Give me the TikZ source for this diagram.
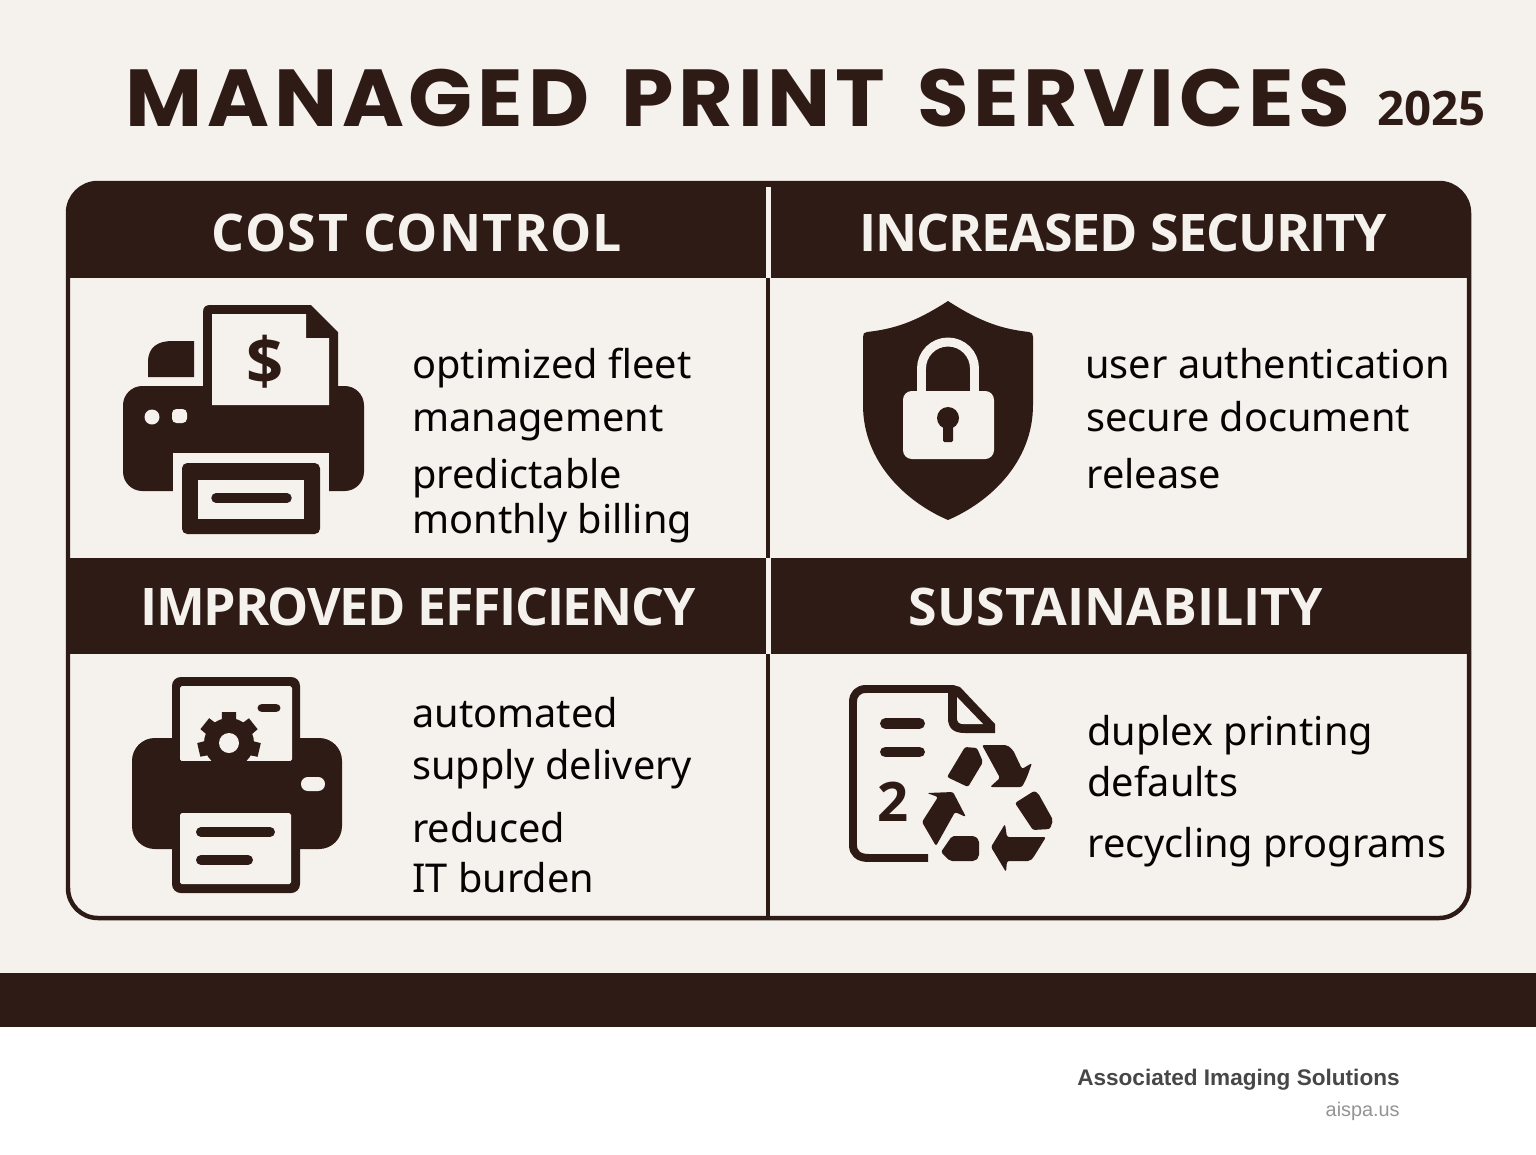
\documentclass[tikz,border=0pt]{standalone}
\usepackage{fontspec}
\setmainfont{Noto Sans}
\newfontfamily\titlefont[FakeStretch=1.04,LetterSpace=6,WordSpace=1.4]{Poppins}
\newfontfamily\headfont{Open Sans}
\newfontfamily\footfont{Liberation Sans}
\definecolor{ink}{HTML}{2F1B16}
\definecolor{paper}{HTML}{F5F1EC}
\tikzset{
	px/.style={x=0.02cm, y=-0.02cm},
	paperfill/.style={fill=paper},
	inkfill/.style={fill=ink},
	inkline/.style={draw=ink, line width=#1*0.567pt},
	headtext/.style={text=paper, font=\headfont\bfseries\fontsize{29.5}{29.5}\selectfont},
	bodytext/.style={text=black!88!ink, anchor=base west, inner sep=0pt, font=\fontsize{22.6}{22.6}\selectfont},
	pics/barline/.style n args={3}{
		code = {
			\draw[ink, line width=#3*0.567pt, line cap=round] (#1) -- (#2);
		}
	}
}

\begin{document}
\begin{tikzpicture}[px]

	\useasboundingbox (0, 0) rectangle (1536, 1154);
	\fill[white] (0, 0) rectangle (1536, 1154);
	\fill[paperfill] (0, 0) rectangle (1536, 1027);
	\fill[inkfill] (0, 973) rectangle (1536, 1027);

	% title
	\node[anchor=base west, inner sep=0pt, text=ink, font=\titlefont\bfseries\fontsize{46}{46}\selectfont] (title) at (125, 126) {MANAGED PRINT SERVICES};
	\node[anchor=base west, inner sep=0pt, text=ink, font=\headfont\bfseries\fontsize{27}{27}\selectfont] (year) at (1377, 125) {2025};

	% frame
	\begin{scope}
		\clip[rounded corners=17pt] (68, 183) rectangle (1469, 918);
		\fill[inkfill] (68, 183) rectangle (1469, 278);
		\fill[inkfill] (68, 558) rectangle (1469, 654);
		\draw[inkline=4] (768, 278) -- (768, 558);
		\draw[inkline=4] (768, 654) -- (768, 918);
		\draw[paper, line width=6*0.567pt] (768.5, 187) -- (768.5, 278);
		\draw[paper, line width=6*0.567pt] (768.5, 558) -- (768.5, 654);
	\end{scope}
	\draw[inkline=4.5, rounded corners=17pt] (68, 183) rectangle (1469, 918);

	% headers
	\node[headtext] (costhead) at (417, 233) {\addfontfeature{LetterSpace=2.9}COST CONTROL};
	\node[headtext] (securityhead) at (1123, 233) {\addfontfeature{LetterSpace=-2}INCREASED SECURITY};
	\node[headtext] (efficiencyhead) at (418, 607) {\addfontfeature{LetterSpace=-2.6}IMPROVED EFFICIENCY};
	\node[headtext] (sustainhead) at (1116, 607) {SUSTAINABILITY};

	% cost control text
	\node[bodytext] (cost1) at (412, 378) {optimized fleet};
	\node[bodytext] (cost2) at (412, 431) {management};
	\node[bodytext] (cost3) at (412, 488) {predictable};
	\node[bodytext] (cost4) at (412, 533) {monthly billing};

	% security text
	\node[bodytext] (security1) at (1085, 378) {user authentication};
	\node[bodytext] (security2) at (1086, 431) {secure document};
	\node[bodytext] (security3) at (1086, 488) {release};

	% efficiency text
	\node[bodytext] (efficiency1) at (412, 727) {automated};
	\node[bodytext] (efficiency2) at (412, 779) {supply delivery};
	\node[bodytext] (efficiency3) at (412, 842) {reduced};
	\node[bodytext] (efficiency4) at (412, 892) {IT burden};

	% sustainability text
	\node[bodytext] (sustain1) at (1087, 745) {duplex printing};
	\node[bodytext] (sustain2) at (1087, 796) {defaults};
	\node[bodytext] (sustain3) at (1087, 857) {recycling programs};

	% footer
	\node[anchor=base east, inner sep=0pt, text=black!72, font=\footfont\bfseries\fontsize{12.85}{12.85}\selectfont] (company) at (1400, 1085) {Associated Imaging Solutions};
	\node[anchor=base east, inner sep=0pt, text=black!42, font=\footfont\fontsize{11.3}{11.3}\selectfont] (website) at (1400, 1116) {aispa.us};

	% printer with dollar
	\fill[inkfill, rounded corners=11pt] (123, 386) rectangle (364, 491);
	\fill[inkfill] (148, 377) -- (148, 362) .. controls (148, 347) and (158, 341) .. (172, 341) -- (194, 341) -- (194, 377) -- cycle;
	\fill[paperfill] (173, 453) rectangle (329, 495);
	\fill[inkfill] (203, 386) -- (203, 312) .. controls (203, 307) and (206, 305) .. (210, 305) -- (311, 305) -- (338, 332) -- (338, 386) -- cycle;
	\fill[paperfill] (212, 314) -- (306, 314) -- (306, 338) -- (329, 338) -- (329, 405) -- (212, 405) -- cycle;
	\node[text=ink, font=\headfont\bfseries\fontsize{37}{37}\selectfont, inner sep=0pt] (dollar) at (265, 362) {\$};
	\fill[paperfill] (152, 417) circle (7.5);
	\fill[paperfill, rounded corners=2.5pt] (172, 409) rectangle (187, 423);
	\fill[inkfill, rounded corners=3pt] (182, 463) rectangle (320, 534);
	\fill[paperfill] (198, 480) rectangle (304, 519);
	\pic{barline={216, 498}{287, 498}{9.5}};

	% shield
	\fill[inkfill] (948, 301) .. controls (982, 323) and (1003, 329) .. (1029, 332) .. controls (1032, 332) and (1033, 334) .. (1033, 337) -- (1033, 405) .. controls (1033, 462) and (990, 502) .. (948, 520) .. controls (906, 502) and (863, 462) .. (863, 405) -- (863, 337) .. controls (863, 334) and (864, 332) .. (867, 332) .. controls (893, 329) and (914, 323) .. (948, 301) -- cycle;
	\draw[paper, line width=9*0.567pt] (921.5, 395) -- (921.5, 368.5) arc (180:360:26.5) -- (974.5, 395);
	\fill[paperfill, rounded corners=5pt] (903, 391) rectangle (994, 459);
	\fill[inkfill] (948, 418) circle (11);
	\fill[inkfill, rounded corners=0.8pt] (943, 422) rectangle (953, 442);

	% printer with gear
	\fill[inkfill, rounded corners=13pt] (132, 738) rectangle (342, 849);
	\fill[inkfill, rounded corners=5pt] (172, 677) rectangle (300, 760);
	\fill[paperfill, rounded corners=1pt] (180, 686) -- (292, 686) -- (292, 761) -- (180, 761) -- cycle;
	\fill[paperfill, rounded corners=3.9pt] (301, 777) rectangle (325, 791);
	\pic{barline={262, 708}{276, 708}{9}};
	\fill[inkfill, rounded corners=5pt] (172, 800) rectangle (300, 893);
	\fill[paperfill, rounded corners=1pt] (180, 813) rectangle (291, 884);
	\pic{barline={201, 832}{270, 832}{10}};
	\pic{barline={201, 860}{248, 860}{10}};
	% gear teeth
	\fill[inkfill] (229, 743) circle (25);
	\foreach \gearangle in {0, 51.4, 102.8, 154.2, 205.6, 257, 308.4} {
		\fill[inkfill, rotate around={\gearangle:(229, 743)}] (221, 743) -- (222, 712) -- (236, 712) -- (237, 743) -- cycle;
	}
	\fill[inkfill] (180, 761) rectangle (292, 768);
	\fill[paperfill] (229, 743) circle (10);

	% document
	\draw[inkline=8, line join=round] (928, 858) -- (869, 858) .. controls (858, 858) and (853, 853) .. (853, 845) -- (853, 702) .. controls (853, 694) and (858, 689) .. (866, 689) -- (953, 689) -- (990, 729);
	\fill[inkfill] (953, 685) -- (960, 687) -- (995, 724) -- (995, 733) -- (965, 733) .. controls (953, 733) and (948, 728) .. (948, 718) -- (948, 685) -- cycle;
	\fill[paperfill] (957, 697) -- (983, 724) -- (963, 724) .. controls (959, 724) and (957, 722) .. (957, 718) -- cycle;
	\pic{barline={885.5, 723.5}{919.5, 723.5}{11}};
	\pic{barline={885.5, 752}{919.5, 752}{11}};
	\node[text=ink, font=\headfont\bfseries\fontsize{31}{31}\selectfont, inner sep=0pt] (pagenum) at (893, 802) {2};

	% recycling arrows
	\begin{scope}[inkfill, rounded corners=1.2pt]
		\fill (965, 747) -- (977, 748) -- (983, 762) -- (968, 787) -- (947, 777) -- cycle;
		\fill (982, 745) -- (1007, 745) -- (1013, 750) -- (1022, 769) -- (1032, 763) -- (1027, 777) -- (1022, 787) -- (990, 787) -- (1000, 778) -- cycle;
		\fill (1015, 803) -- (1034, 791) -- (1038, 793) -- (1053, 820) -- (1050, 829) -- (1033, 830) -- cycle;
		\fill (1046, 837) -- (1033, 858) -- (1030, 861) -- (1007, 861) -- (1006, 872) -- (991, 847) -- (1005, 824) -- (1007, 837) -- cycle;
		\fill (952, 836) -- (975, 836) -- (979, 840) -- (979, 857) -- (975, 861) -- (950, 861) -- (941, 852) -- cycle;
		\fill (936, 846) -- (922, 822) -- (938, 797) -- (927, 793) -- (953, 792) -- (966, 817) -- (955, 812) -- cycle;
	\end{scope}

\end{tikzpicture}
\end{document}
